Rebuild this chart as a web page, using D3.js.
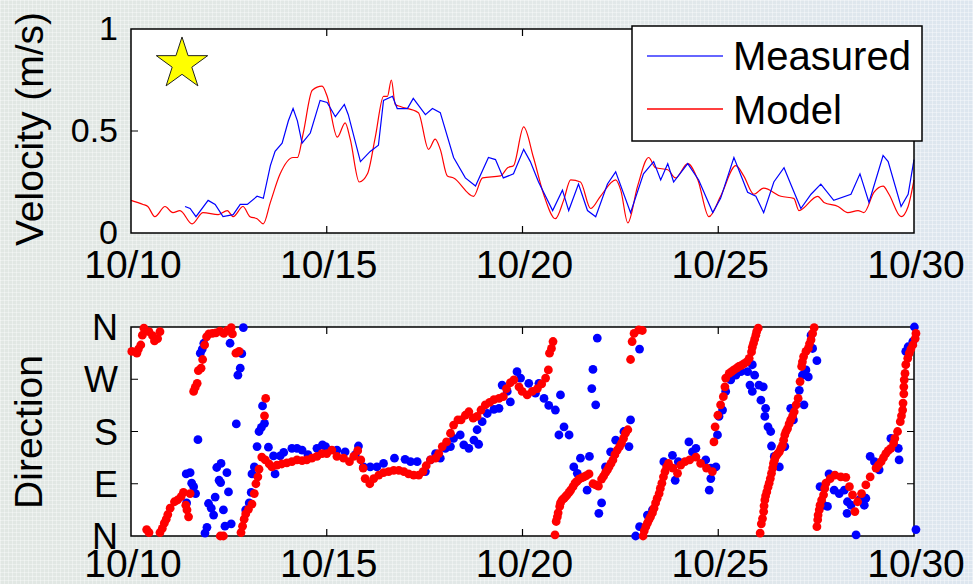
<!DOCTYPE html>
<html lang="en">
<head>
<meta charset="utf-8">
<script src="https://d3js.org/d3.v7.min.js"></script>
<title>Velocity and direction</title>
<style>
    body { margin: 0; overflow: hidden; }
    text { font-family: "Liberation Sans", Arial, sans-serif; fill: #000; }
</style>
</head>
<body>
<div id="container"></div>
<script>
    // velocity series: [day of October, m/s]
    var modelVelocity = [[10.00,0.16],[10.31,0.14],[10.43,0.13],[10.61,0.08],[10.87,0.13],[11.07,0.10],[11.25,0.11],[11.56,0.045],[11.84,0.10],[12.23,0.09],[12.46,0.11],[12.61,0.08],[12.86,0.13],[13.04,0.08],[13.22,0.07],[13.38,0.045],[13.56,0.15],[13.81,0.29],[14.14,0.37],[14.25,0.37],[14.40,0.49],[14.63,0.70],[14.88,0.72],[15.01,0.67],[15.27,0.47],[15.47,0.54],[15.60,0.46],[15.83,0.25],[16.04,0.29],[16.24,0.47],[16.45,0.67],[16.55,0.67],[16.65,0.75],[16.75,0.63],[16.88,0.62],[17.34,0.59],[17.60,0.41],[17.77,0.46],[17.90,0.41],[18.08,0.28],[18.24,0.27],[18.75,0.18],[18.98,0.27],[19.44,0.28],[19.62,0.32],[19.77,0.33],[20.03,0.52],[20.28,0.37],[20.54,0.19],[20.84,0.07],[21.05,0.16],[21.23,0.26],[21.48,0.25],[21.74,0.12],[21.99,0.18],[22.38,0.26],[22.51,0.21],[22.69,0.05],[22.94,0.23],[23.22,0.37],[23.40,0.32],[23.71,0.31],[23.91,0.27],[24.22,0.34],[24.48,0.26],[24.76,0.08],[25.06,0.18],[25.45,0.33],[25.65,0.28],[25.91,0.19],[26.16,0.22],[26.60,0.18],[26.93,0.17],[27.06,0.11],[27.54,0.18],[27.70,0.15],[28.06,0.13],[28.31,0.10],[28.57,0.11],[28.72,0.10],[28.98,0.20],[29.21,0.23],[29.36,0.19],[29.67,0.08],[29.85,0.13],[30.00,0.26]];
    var measuredVelocity = [[11.38,0.13],[11.51,0.12],[11.66,0.08],[11.97,0.16],[12.15,0.14],[12.35,0.08],[12.61,0.09],[12.79,0.14],[12.97,0.14],[13.22,0.18],[13.38,0.17],[13.56,0.33],[13.68,0.40],[13.86,0.44],[14.02,0.55],[14.14,0.61],[14.25,0.55],[14.37,0.44],[14.58,0.49],[14.83,0.65],[15.01,0.64],[15.22,0.57],[15.45,0.63],[15.55,0.58],[15.86,0.35],[16.11,0.40],[16.32,0.43],[16.45,0.65],[16.68,0.67],[16.80,0.61],[17.06,0.61],[17.21,0.66],[17.52,0.58],[17.70,0.61],[17.90,0.59],[18.24,0.37],[18.54,0.27],[18.80,0.23],[19.13,0.37],[19.31,0.36],[19.51,0.27],[19.77,0.29],[20.03,0.41],[20.20,0.35],[20.41,0.25],[20.77,0.11],[21.02,0.21],[21.18,0.11],[21.43,0.24],[21.66,0.11],[21.87,0.08],[22.17,0.24],[22.38,0.30],[22.76,0.10],[23.09,0.29],[23.35,0.35],[23.53,0.26],[23.71,0.34],[23.86,0.25],[24.22,0.34],[24.50,0.26],[24.86,0.10],[25.06,0.17],[25.40,0.37],[25.75,0.20],[25.96,0.18],[26.16,0.10],[26.42,0.25],[26.68,0.32],[26.85,0.24],[27.11,0.12],[27.37,0.19],[27.62,0.24],[27.95,0.16],[28.39,0.19],[28.62,0.29],[28.85,0.15],[29.21,0.38],[29.34,0.35],[29.67,0.13],[29.85,0.19],[30.00,0.36]];

    // direction series: [day of October, degrees from N]
    var measuredDirection = [[12.87,359],[12.53,332],[12.83,314],[12.79,289],[12.73,277],[12.69,193],[11.71,166],[11.77,315],[11.82,322],[11.86,332],[11.41,107],[11.51,109],[11.55,91],[11.60,85],[11.65,73],[11.42,57],[11.98,56],[12.05,48],[12.11,36],[12.15,67],[12.19,118],[12.30,125],[12.25,96],[12.29,92],[12.45,109],[12.49,76],[12.36,45],[11.94,15],[11.89,5],[12.40,17],[12.56,21],[12.93,45],[13.02,57],[13.07,75],[13.09,107],[13.15,119],[13.22,154],[13.27,180],[13.33,187],[13.36,224],[13.41,194],[13.51,153],[13.68,107],[13.90,144],[14.11,151],[14.24,151],[14.37,148],[14.52,140],[14.75,151],[14.89,157],[13.64,138],[13.81,138],
        [14.97,154],[15.26,148],[15.47,145],[15.73,140],[15.81,155],[15.94,119],[16.11,119],[16.28,119],[16.45,125],[16.73,134],[17.00,132],[17.14,128],[17.31,128],[17.52,111],[17.65,131],[17.78,142],[17.90,134],[18.03,151],[18.16,154],[18.24,168],[18.41,174],[18.50,157],[18.63,151],[18.76,165],[18.88,158],[18.84,183],[18.97,197],[19.10,211],[19.27,218],[19.40,220],[19.48,260],[19.61,249],[19.69,231],[19.86,283],[19.95,272],
        [20.16,263],[20.33,246],[20.42,263],[20.55,237],[20.67,225],[20.84,217],[20.97,243],[21.06,188],[20.93,174],[21.19,174],[21.91,341],[21.80,287],[21.77,254],[21.87,226],[22.76,200],[22.72,154],[22.59,180],[22.99,322],[21.31,119],[21.48,134],[21.71,137],[21.40,108],[21.65,79],[22.02,57],[21.95,39],[22.12,119],[22.25,145],[22.38,165],[22.89,0],[22.99,16],[23.19,36],[23.32,45],[23.61,128],[23.83,139],[23.98,128],[23.90,96],[24.25,162],[24.34,145],[24.43,151],[24.68,131],[24.77,79],[24.81,99],
        [24.94,119],[24.81,117],[24.98,174],[25.02,206],[25.11,217],[25.19,249],[25.32,269],[25.45,277],[25.58,283],[25.75,283],[25.87,295],[25.93,277],[25.81,260],[25.87,249],[26.04,260],[26.15,257],[26.09,234],[26.21,220],[26.19,206],[26.27,188],[26.34,180],[26.36,155],[26.43,137],[26.56,119],[26.70,154],[26.85,220],[26.92,200],[27.07,251],[27.19,226],[27.15,277],[27.30,274],[27.24,286],[27.52,302],[27.41,323],[27.37,346],[27.60,85],[27.69,53],[27.79,51],[27.83,107],[27.96,79],[28.09,73],[28.22,79],[28.30,59],[28.29,39],[28.39,53],[28.52,2],[28.60,62],[28.73,53],[28.77,65],[28.88,137],[28.99,128],[29.11,114],[29.41,168],[29.60,151],[29.62,131],[29.79,318],[29.85,326],[29.97,335],[30.01,360],[30.05,11]];
    var modelDirection = [[10.02,318],[10.15,315],[10.19,322],[10.25,329],[10.29,346],[10.33,358],[10.46,352],[10.55,345],[10.60,336],[10.68,340],[10.74,352],[10.40,11],[10.46,6],[10.74,6],[10.80,13],[10.85,22],[10.90,29],[10.94,37],[11.00,48],[11.11,59],[11.19,62],[11.28,68],[11.34,75],[11.40,53],[11.43,45],[11.47,33],[11.51,73],[11.60,249],[11.64,256],[11.69,263],[11.72,285],[11.79,289],[11.83,304],[11.88,329],[11.93,343],[11.99,348],[12.08,349],[12.17,350],[12.27,353],[12.37,349],[12.46,354],[12.56,359],[12.59,348],[12.68,315],[12.76,318],[12.28,0],[12.36,0],[12.81,6],[12.85,17],[12.89,29],[12.93,38],[13.00,46],[13.09,55],[13.15,73],[13.19,90],[13.24,102],[13.27,115],[13.34,136],[13.41,207],[13.44,237],[13.43,131],[13.53,124],[13.60,119],[13.73,122],[13.85,124],[13.98,126],[14.11,128],[14.24,131],[14.37,130],[14.49,131],[14.62,134],[14.75,137],[14.88,142],
        [15.00,142],[15.13,148],[15.26,137],[15.43,134],[15.58,128],[15.69,137],[15.79,147],[15.87,131],[15.93,117],[15.98,99],[16.10,90],[16.20,99],[16.33,105],[16.45,109],[16.58,111],[16.71,113],[16.84,113],[16.97,111],[17.09,107],[17.22,105],[17.35,105],[17.46,111],[17.54,121],[17.65,131],[17.78,134],[17.86,142],[17.95,154],[18.06,162],[18.16,177],[18.24,191],[18.35,200],[18.43,200],[18.54,208],[18.63,214],[18.74,203],[18.84,206],[18.94,217],[19.05,226],[19.16,230],[19.27,235],[19.40,237],[19.51,240],[19.59,254],[19.69,264],[19.78,269],[19.91,257],[19.99,249],
        [20.12,243],[20.25,249],[20.38,254],[20.49,262],[20.59,272],[20.66,286],[20.69,315],[20.74,323],[20.78,335],[20.83,2],[20.86,25],[20.89,33],[20.91,40],[20.95,51],[20.97,57],[21.01,62],[21.06,65],[21.10,68],[21.14,71],[21.19,75],[21.23,79],[21.29,85],[21.34,91],[21.39,94],[21.44,98],[21.51,100],[21.57,102],[21.63,104],[21.70,107],[21.80,90],[21.87,88],[21.94,86],[22.02,98],[22.07,103],[22.12,109],[22.17,114],[22.21,119],[22.26,125],[22.31,131],[22.36,140],[22.42,148],[22.48,154],[22.53,160],[22.58,168],[22.63,177],[22.69,183],[22.76,304],[22.80,335],[22.85,349],[22.97,355],[23.06,354],[23.08,0],[23.11,9],[23.15,16],[23.19,22],[23.23,28],[23.27,33],[23.32,40],[23.36,48],[23.40,57],[23.44,65],[23.49,73],[23.52,82],[23.56,91],[23.60,102],[23.64,111],[23.68,119],[23.73,125],[23.84,117],[23.96,108],[24.04,122],[24.15,128],[24.27,131],[24.43,136],[24.55,125],[24.70,117],[24.85,111],[24.92,188],
        [24.89,162],[24.99,208],[25.06,226],[25.13,240],[25.17,257],[25.19,272],[25.28,280],[25.34,283],[25.40,286],[25.47,289],[25.53,292],[25.59,294],[25.66,297],[25.73,300],[25.79,306],[25.85,317],[25.87,325],[25.90,332],[25.93,339],[25.96,346],[25.98,352],[26.02,358],[26.07,5],[26.10,21],[26.13,30],[26.16,42],[26.17,52],[26.19,62],[26.21,69],[26.24,76],[26.27,84],[26.30,91],[26.33,99],[26.36,108],[26.39,117],[26.41,125],[26.44,131],[26.47,137],[26.51,141],[26.56,145],[26.60,151],[26.64,156],[26.67,165],[26.70,174],[26.73,180],[26.77,185],[26.81,193],[26.85,200],[26.90,207],[26.94,214],[26.99,226],[27.04,237],[27.09,266],[27.13,292],[27.15,300],[27.18,309],[27.24,318],[27.30,323],[27.33,331],[27.37,338],[27.41,349],[27.45,359],[27.52,16],[27.54,28],[27.55,36],[27.58,45],[27.60,53],[27.64,62],[27.69,71],[27.72,82],[27.75,91],[27.86,99],[27.98,105],[28.13,102],[28.26,101],[28.35,85],[28.43,71],[28.49,42],[28.56,59],[28.66,73],[28.77,88],[28.88,102],[29.03,117],[29.09,122],[29.16,128],[29.22,135],[29.28,142],[29.34,147],[29.41,151],[29.48,160],[29.51,168],[29.58,180],[29.65,197],[29.68,207],[29.71,217],[29.72,229],[29.74,245],[29.74,257],[29.75,269],[29.77,280],[29.79,295],[29.84,306],[29.88,315],[29.92,322],[29.97,329],[30.03,340],[30.05,349]];

    var dateTicks = [10, 15, 20, 25, 30];
    var velTicks = [0, 0.5, 1];
    var dirTicks = [0, 90, 180, 270, 360];
    var dirLabels = ["N", "E", "S", "W", "N"];
    var legendNames = ["Measured", "Model"];
    var colours = {Measured: "#0000ff", Model: "#ff0000"};

    var W = 973, H = 584;
    var svg = d3.select("#container").append("svg")
        .attr("width", W).attr("height", H);

    // slide-like background
    var defs = svg.append("defs");
    var grad = defs.append("linearGradient").attr("id", "bg").attr("x1", 0).attr("x2", 1).attr("y1", 0).attr("y2", 0);
    grad.append("stop").attr("offset", "0%").attr("stop-color", "#e1e7e3");
    grad.append("stop").attr("offset", "60%").attr("stop-color", "#e2e8e8");
    grad.append("stop").attr("offset", "100%").attr("stop-color", "#dde6ef");
    var pat = defs.append("pattern").attr("id", "grid").attr("width", 4).attr("height", 4).attr("patternUnits", "userSpaceOnUse");
    pat.append("path").attr("d", "M0,0.5H4M0.5,0V4").attr("stroke", "#fff").attr("stroke-opacity", 0.35).attr("stroke-width", 1);
    svg.append("rect").attr("width", W).attr("height", H).attr("fill", "url(#bg)");
    svg.append("rect").attr("width", W).attr("height", H).attr("fill", "url(#grid)");

    var x = d3.scaleLinear().domain([10, 30]).range([131, 914]);
    var yVel = d3.scaleLinear().domain([0, 1]).range([233, 29]);
    var yDir = d3.scaleLinear().domain([0, 360]).range([536, 327]);

    function frame(g, y, yTicks, y0, y1, labelY) {
        g.append("rect").attr("x", 131).attr("y", y0).attr("width", 914 - 131).attr("height", y1 - y0)
            .attr("fill", "#fff");
        // x ticks inside bottom and top
        g.selectAll(".xt").data(dateTicks.slice(1, -1)).enter().append("path")
            .attr("d", function(d) { return "M" + x(d) + "," + y1 + "v-7M" + x(d) + "," + y0 + "v7"; })
            .attr("stroke", "#000").attr("stroke-width", 1.2);
        g.selectAll(".yt").data(yTicks.slice(1, -1)).enter().append("path")
            .attr("d", function(d) { return "M131," + y(d) + "h7M914," + y(d) + "h-7"; })
            .attr("stroke", "#000").attr("stroke-width", 1.2);
        g.selectAll(".xl").data(dateTicks).enter().append("text")
            .attr("x", function(d) { return x(d) + 2; })
            .attr("y", labelY)
            .attr("text-anchor", "middle")
            .style("font-size", "39px")
            .text(function(d) { return "10/" + d; });
    }

    var velPanel = svg.append("g");
    frame(velPanel, yVel, velTicks, 29, 233, 278);
    velPanel.selectAll(".yl").data(velTicks).enter().append("text")
        .attr("x", 118).attr("y", function(d) { return yVel(d) + 11; })
        .attr("text-anchor", "end").style("font-size", "34px")
        .text(function(d) { return d3.format("")(d); });
    velPanel.append("text")
        .attr("transform", "translate(43,129) rotate(-90)")
        .attr("text-anchor", "middle").style("font-size", "39px")
        .text("Velocity (m/s)");

    var line = d3.line()
        .x(function(d) { return x(d[0]); })
        .y(function(d) { return yVel(d[1]); });
    velPanel.append("path").datum(modelVelocity).attr("d", line.curve(d3.curveMonotoneX))
        .attr("fill", "none").attr("stroke", colours.Model).attr("stroke-width", 1.2);
    velPanel.append("path").datum(measuredVelocity).attr("d", line.curve(d3.curveLinear))
        .attr("fill", "none").attr("stroke", colours.Measured).attr("stroke-width", 1.2);
    velPanel.append("rect").attr("x", 131).attr("y", 29).attr("width", 914 - 131).attr("height", 233 - 29)
        .attr("fill", "none").attr("stroke", "#000").attr("stroke-width", 1.5);

    // star marker
    velPanel.append("path")
        .attr("d", d3.symbol(d3.symbolStar, 820)())
        .attr("transform", "translate(182,64)")
        .attr("fill", "#ffff00").attr("stroke", "#222").attr("stroke-width", 1);

    // legend
    var leg = velPanel.append("g");
    leg.append("rect").attr("x", 632).attr("y", 26).attr("width", 290).attr("height", 115)
        .attr("fill", "#fff").attr("stroke", "#000").attr("stroke-width", 1.5);
    leg.selectAll(".li").data(legendNames).enter().append("path")
        .attr("d", function(d, i) { return "M647," + (56 + i * 53) + "H723"; })
        .attr("stroke", function(d) { return colours[d]; })
        .attr("stroke-width", function(d, i) { return i === 0 ? 2 : 1.3; })
        .attr("stroke-opacity", function(d, i) { return i === 0 ? 0.6 : 1; });
    leg.selectAll(".lt").data(legendNames).enter().append("text")
        .attr("x", 733).attr("y", function(d, i) { return 70 + i * 54; })
        .style("font-size", "40px")
        .text(function(d) { return d; });

    var dirPanel = svg.append("g");
    frame(dirPanel, yDir, dirTicks, 327, 536, 577);
    dirPanel.selectAll(".yl").data(dirTicks).enter().append("text")
        .attr("x", 118).attr("y", function(d) { return yDir(d) + 13; })
        .attr("text-anchor", "end").style("font-size", "36px")
        .text(function(d, i) { return dirLabels[i]; });
    dirPanel.append("text")
        .attr("transform", "translate(42,432) rotate(-90)")
        .attr("text-anchor", "middle").style("font-size", "39px")
        .text("Direction");
    dirPanel.append("rect").attr("x", 131).attr("y", 327).attr("width", 914 - 131).attr("height", 536 - 327)
        .attr("fill", "none").attr("stroke", "#000").attr("stroke-width", 1.5);

    dirPanel.selectAll(".mp").data(measuredDirection).enter().append("circle")
        .attr("cx", function(d) { return x(d[0]); })
        .attr("cy", function(d) { return yDir(d[1]); })
        .attr("r", 4.4).attr("fill", colours.Measured);
    dirPanel.selectAll(".rp").data(modelDirection).enter().append("circle")
        .attr("cx", function(d) { return x(d[0]); })
        .attr("cy", function(d) { return yDir(d[1]); })
        .attr("r", 4.4).attr("fill", colours.Model);
</script>
</body>
</html>
